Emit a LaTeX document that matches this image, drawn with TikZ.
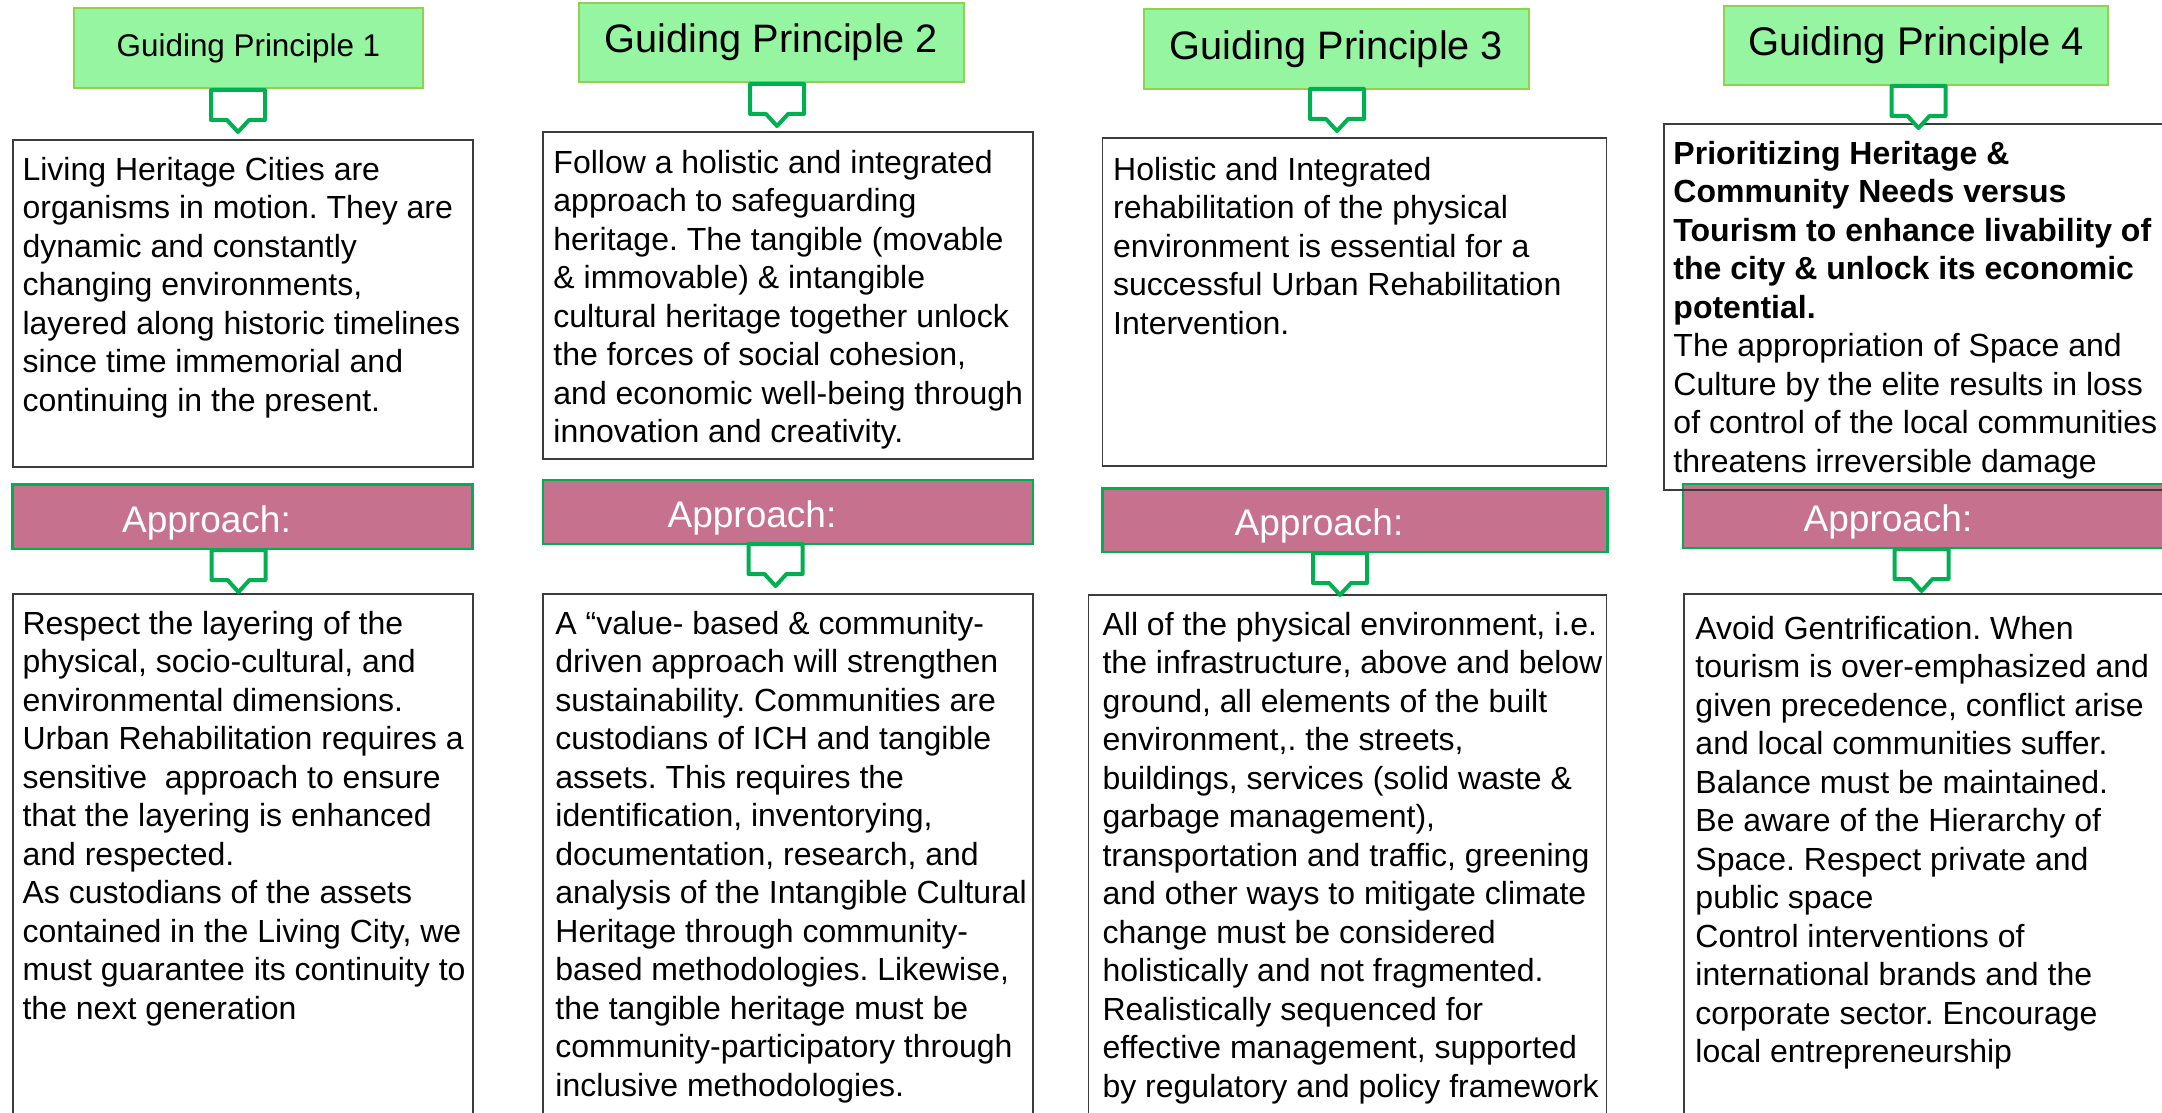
\documentclass[tikz,border=0pt]{standalone}
\usepackage{fontspec}
\setmainfont{Liberation Sans}
\usepackage{tikz}
\usetikzlibrary{calc}
\frenchspacing
\definecolor{gpfill}{RGB}{150,245,160}
\definecolor{gpline}{RGB}{146,208,80}
\definecolor{apfill}{RGB}{198,114,143}
\definecolor{apline}{RGB}{0,176,80}
\definecolor{boxline}{RGB}{60,60,60}
\tikzset{
	gphead/.style={draw=gpline, fill=gpfill, line width=2pt, inner sep=0pt},
	aphead/.style={draw=apline, fill=apfill, line width=2.5pt, inner sep=0pt, text=white, text height=31pt, text depth=0pt, font=\fontsize{37}{44}\selectfont},
	txtbox/.style={draw=boxline, line width=1.5pt, inner sep=0pt},
	body/.style={anchor=north west, inner sep=0pt, align=left, font=\fontsize{32}{38.5}\selectfont},
	callout/.pic={\draw[draw=apline, fill=white, line width=4pt, line join=round] (-27,2) -- (27,2) -- (27,32) -- (11,32) -- (0,44) -- (-11,32) -- (-27,32) -- cycle;}
}
\newcommand{\aplabel}{Approach:\hspace*{72pt}}

\begin{document}
\begin{tikzpicture}[x=1pt, y=-1pt]
		%%%%% START %%%%%
		\clip (0,0) rectangle (2162,1113);
		
		% principle headers
		\node[gphead, minimum width=349, minimum height=80, font=\fontsize{31.4}{36}\selectfont] (gp1) at (248.5,48) {Guiding Principle 1};
		\node[gphead, minimum width=385, minimum height=79, font=\fontsize{39.7}{46}\selectfont] (gp2) at (771.5,42.5) {Guiding Principle 2};
		\node[gphead, minimum width=385, minimum height=80, font=\fontsize{39.7}{46}\selectfont] (gp3) at (1336.5,49) {Guiding Principle 3};
		\node[gphead, minimum width=384, minimum height=79, font=\fontsize{40}{46}\selectfont] (gp4) at (1916,45.5) {Guiding Principle 4};
		
		% approach bars
		\node[aphead, minimum width=460, minimum height=64.5] (ap1) at (242.5,516.5) {\aplabel};
		\node[aphead, minimum width=490, minimum height=64] (ap2) at (788,512) {\aplabel};
		\node[aphead, minimum width=505, minimum height=63.5] (ap3) at (1355,520) {\aplabel};
		\node[aphead, minimum width=482, minimum height=64] (ap4) at (1924,516) {\aplabel};
		
		% principle boxes
		\node[txtbox, minimum width=460, minimum height=327] (gp1box) at (242.75,303.5) {};
		\node[txtbox, minimum width=490, minimum height=327] (gp2box) at (788,295.5) {};
		\node[txtbox, minimum width=504, minimum height=328] (gp3box) at (1354.4,302) {};
		\node[txtbox, minimum width=510, minimum height=366] (gp4box) at (1919,307) {};
		
		\node[body] (gp1txt) at ($(gp1box.north west)+(10.4,14)$) {\strut Living Heritage Cities are\\organisms in motion. They are\\dynamic and constantly\\changing environments,\\layered along historic timelines\\since time immemorial and\\continuing in the present.};
		\node[body] (gp2txt) at ($(gp2box.north west)+(11,15)$) {\strut Follow a holistic and integrated\\approach to safeguarding\\heritage. The tangible (movable\\\& immovable) \& intangible\\cultural heritage together unlock\\the forces of social cohesion,\\and economic well-being through\\innovation and creativity.};
		\node[body] (gp3txt) at ($(gp3box.north west)+(11.3,16)$) {\strut Holistic and Integrated\\rehabilitation of the physical\\environment is essential for a\\successful Urban Rehabilitation\\Intervention.};
		\node[body] (gp4txt) at ($(gp4box.north west)+(10,14)$) {\strut\textbf{Prioritizing Heritage \&}\\\textbf{Community Needs versus}\\\textbf{Tourism to enhance livability of}\\\textbf{the city \& unlock its economic}\\\textbf{potential.}\\The appropriation of Space and\\Culture by the elite results in loss\\of control of the local communities\\threatens irreversible damage};
		
		% approach boxes
		\node[txtbox, minimum width=460, minimum height=536] (ap1box) at (242.75,862) {};
		\node[txtbox, minimum width=490, minimum height=536] (ap2box) at (788,862) {};
		\node[txtbox, minimum width=518, minimum height=536] (ap3box) at (1347.3,863) {};
		\node[txtbox, minimum width=490, minimum height=536] (ap4box) at (1929,862) {};
		
		\node[body] (ap1txt) at ($(ap1box.north west)+(10.4,14)$) {\strut Respect the layering of the\\physical, socio-cultural, and\\environmental dimensions.\\Urban Rehabilitation requires a\\sensitive\ \ approach to ensure\\that the layering is enhanced\\and respected.\\As custodians of the assets\\contained in the Living City, we\\must guarantee its continuity to\\the next generation};
		\node[body] (ap2txt) at ($(ap2box.north west)+(13,14)$) {\strut A “value- based \& community-\\driven approach will strengthen\\sustainability. Communities are\\custodians of ICH and tangible\\assets. This requires the\\identification, inventorying,\\documentation, research, and\\analysis of the Intangible Cultural\\Heritage through community-\\based methodologies. Likewise,\\the tangible heritage must be\\community-participatory through\\inclusive methodologies.};
		\node[body] (ap3txt) at ($(ap3box.north west)+(14.8,14)$) {\strut All of the physical environment, i.e.\\the infrastructure, above and below\\ground, all elements of the built\\environment,. the streets,\\buildings, services (solid waste \&\\garbage management),\\transportation and traffic, greening\\and other ways to mitigate climate\\change must be considered\\holistically and not fragmented.\\Realistically sequenced for\\effective management, supported\\by regulatory and policy framework};
		\node[body] (ap4txt) at ($(ap4box.north west)+(12,19)$) {\strut Avoid Gentrification. When\\tourism is over-emphasized and\\given precedence, conflict arise\\and local communities suffer.\\Balance must be maintained.\\Be aware of the Hierarchy of\\Space. Respect private and\\public space\\Control interventions of\\international brands and the\\corporate sector. Encourage\\local entrepreneurship};
		
		% callouts
		\pic at (238,88) {callout};
		\pic at (777,82) {callout};
		\pic at (1337,87) {callout};
		\pic at (1918.5,84) {callout};
		\pic at (238.5,548) {callout};
		\pic at (775.5,542) {callout};
		\pic at (1340,551) {callout};
		\pic at (1921.5,547) {callout};
		
		%%%%% END %%%%%
\end{tikzpicture}
\end{document}
